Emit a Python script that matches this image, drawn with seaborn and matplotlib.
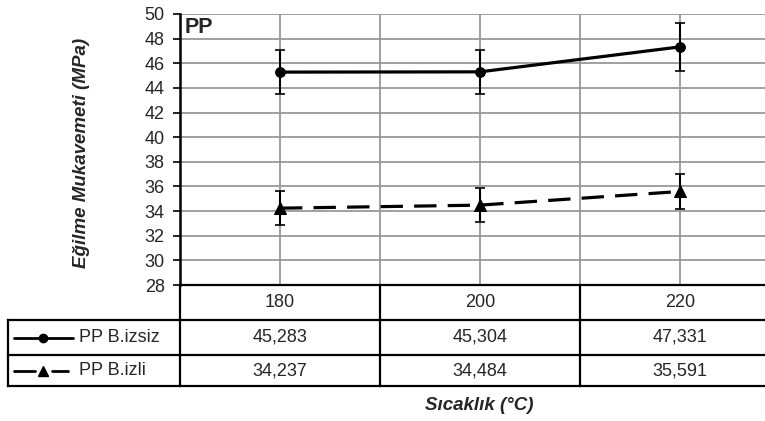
import numpy as np
import pandas as pd
import matplotlib
matplotlib.use("Agg")
import matplotlib.pyplot as plt
import seaborn as sns

sns.set_style("white")
plt.rcParams['font.family'] = ['Liberation Sans', 'DejaVu Sans']

# data
temps = ["180", "200", "220"]
series_names = ["PP B.izsiz", "PP B.izli"]
izsiz = [45.283, 45.304, 47.331]
izli = [34.237, 34.484, 35.591]
izsiz_err = [1.8, 1.8, 1.95]
izli_err = [1.4, 1.4, 1.4]
table_text = [["45,283", "45,304", "47,331"], ["34,237", "34,484", "35,591"]]
yticks = list(range(28, 51, 2))

df = pd.DataFrame({
    "temp": temps * 2,
    "val": izsiz + izli,
    "err": izsiz_err + izli_err,
    "series": [series_names[0]] * 3 + [series_names[1]] * 3,
})

W, H = 765, 421
fig = plt.figure(figsize=(W / 100, H / 100), dpi=100)
FS = 13

# plot area in pixels
px_l, px_r, px_t, px_b = 180, 780, 14, 285
ax = fig.add_axes([px_l / W, 1 - px_b / H, (px_r - px_l) / W, (px_b - px_t) / H])

styles = {series_names[0]: dict(marker="o", ms=7, ls="-"),
          series_names[1]: dict(marker="^", ms=8, ls=(0, (7, 3.5)))}

for name in series_names:
    d = df[df.series == name]
    st = styles[name]
    sns.lineplot(data=d, x="temp", y="val", ax=ax, color="black", lw=2.3,
                 linestyle=st["ls"], marker=st["marker"], markersize=st["ms"],
                 markeredgecolor="black", sort=False, legend=False, zorder=4)
    ax.errorbar(d["temp"], d["val"], yerr=d["err"], fmt="none", ecolor="black",
                elinewidth=1.5, capsize=3.3, capthick=1.2, zorder=3)

ax.set_xlim(-0.5, 2.5)
ax.set_ylim(28, 50)
ax.set_yticks(yticks)
ax.set_xticks([0, 1, 2])
ax.set_xticks([0.5, 1.5], minor=True)
ax.set_xticklabels([])
ax.tick_params(axis="x", which="both", length=0)
ax.tick_params(axis="y", length=5, width=1.2, color="black", labelsize=FS, pad=6, direction="out", left=True)
ax.grid(True, which="both", color="#999999", lw=1.3)
ax.set_axisbelow(True)
for s in ["top", "right", "bottom"]:
    ax.spines[s].set_visible(False)
ax.spines["left"].set_color("black")
ax.spines["left"].set_linewidth(1.8)
ax.set_xlabel("")
ax.set_ylabel("")
fig.text(81 / W, 1 - 153 / H, "Eğilme Mukavemeti (MPa)", rotation=90, ha="center", va="center",
         fontsize=13.5, fontweight="bold", fontstyle="italic")
ax.text(5 / 600, 0.99, "PP", transform=ax.transAxes, fontsize=15.5, fontweight="bold", va="top", ha="left")

# data table below the plot
rows_px = [285, 320, 355, 386]
tx0 = 8
tax = fig.add_axes([tx0 / W, 1 - rows_px[-1] / H, (px_r - tx0) / W, (rows_px[-1] - rows_px[0]) / H])
xl = -0.5 - (px_l - tx0) / 200
tax.set_xlim(xl, 2.5)
tax.set_ylim(rows_px[-1], rows_px[0])
tax.axis("off")
lk = dict(color="black", lw=1.6, clip_on=False, solid_capstyle="projecting")
tax.plot([-0.5, 2.5], [rows_px[0]] * 2, **lk)
for yy in rows_px[1:]:
    tax.plot([xl, 2.5], [yy] * 2, **lk)
tax.plot([xl, xl], [rows_px[1], rows_px[3]], **lk)
for xx in [-0.5, 0.5, 1.5]:
    tax.plot([xx, xx], [rows_px[0], rows_px[3]], **lk)

for i, t in enumerate(temps):
    tax.text(i, (rows_px[0] + rows_px[1]) / 2, t, ha="center", va="center", fontsize=FS)
for r, name in enumerate(series_names):
    yc = (rows_px[r + 1] + rows_px[r + 2]) / 2
    for i in range(3):
        tax.text(i, yc, table_text[r][i], ha="center", va="center", fontsize=FS)
    st = styles[name]
    if r == 0:
        tax.plot(xl + np.array([6, 65]) / 200, [yc, yc], color="black", lw=2)
    else:
        tax.plot(xl + np.array([6, 27]) / 200, [yc, yc], color="black", lw=2)
        tax.plot(xl + np.array([44, 60]) / 200, [yc, yc], color="black", lw=2)
    tax.plot([xl + 35 / 200], [yc], marker=st["marker"], ms=st["ms"] - 1, color="black")
    tax.text(xl + 71 / 200, yc, name, ha="left", va="center", fontsize=FS)

fig.text(479 / W, 1 - 410 / H, "Sıcaklık (°C)", ha="center", va="baseline",
         fontsize=13.5, fontweight="bold", fontstyle="italic")

fig.savefig("out.png", dpi=100)
